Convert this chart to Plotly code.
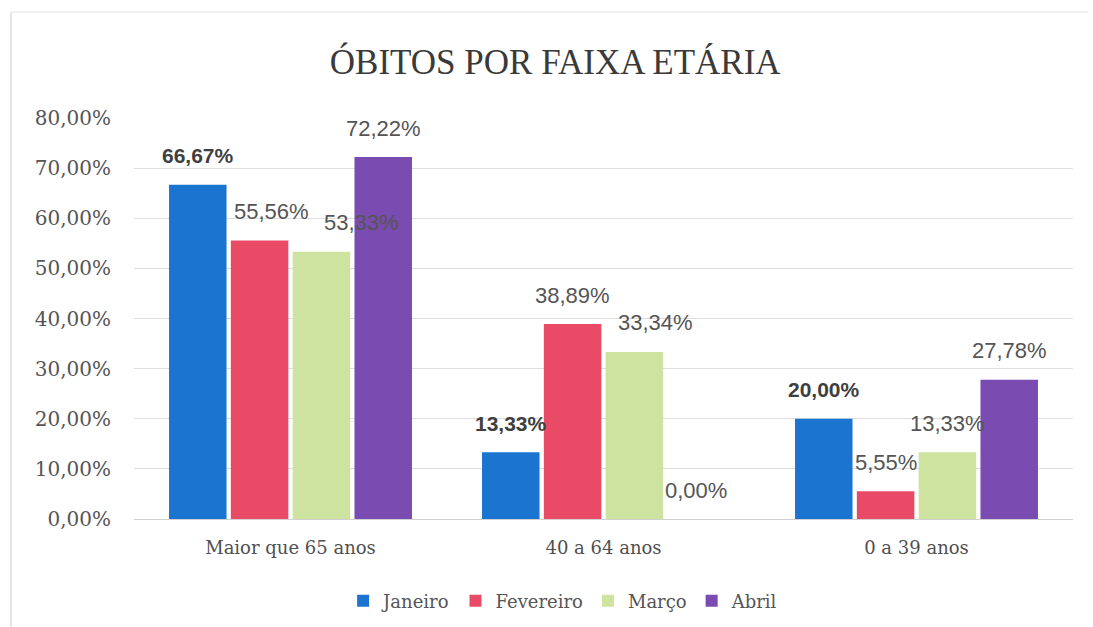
import plotly.graph_objects as go

# Age groups and monthly share of deaths (%)
categories = ["Maior que 65 anos", "40 a 64 anos", "0 a 39 anos"]
months = ["Janeiro", "Fevereiro", "Março", "Abril"]
janeiro = [66.67, 13.33, 20.00]
fevereiro = [55.56, 38.89, 5.55]
marco = [53.33, 33.34, 13.33]
abril = [72.22, 0.00, 27.78]
y_ticks = [0, 10, 20, 30, 40, 50, 60, 70, 80]

series = [janeiro, fevereiro, marco, abril]
colors = ["#1a74d0", "#e94b66", "#cfe3a1", "#7a4bb1"]
label_bold = [True, False, False, False]

# Layout geometry (pixels)
W, H = 1093, 627
ML, MR, MT, MB = 134, 20, 118, 108
BARGAP = 0.21
plot_w = W - ML - MR
plot_h = H - MT - MB
slot_px = plot_w / len(categories) * (1 - BARGAP) / len(months)

# Small horizontal nudges for a few labels that sit beside their bar
label_nudge = {(2, 0): 40, (1, 0): 12, (2, 1): 21}


def pct(v):
    return f"{v:.2f}".replace(".", ",") + "%"


fig = go.Figure()
for name, vals, col in zip(months, series, colors):
    fig.add_trace(go.Bar(
        name=name, x=categories, y=vals,
        marker=dict(color=col, line=dict(width=0)),
        hoverinfo="skip",
    ))

annotations = []
for si, vals in enumerate(series):
    offset = (si - (len(months) - 1) / 2) * slot_px
    for ci, v in enumerate(vals):
        annotations.append(dict(
            x=categories[ci], y=v, xref="x", yref="y",
            text=f"<b>{pct(v)}</b>" if label_bold[si] else pct(v),
            showarrow=False, xanchor="center", yanchor="middle",
            xshift=offset + label_nudge.get((si, ci), 0), yshift=29,
            font=dict(family="Liberation Sans, Arial, sans-serif",
                      size=22 if not label_bold[si] else 21,
                      color="#3f3f3f" if label_bold[si] else "#555555"),
        ))

frame_x = (11 - ML) / plot_w
frame_top = 1 + (MT - 12) / plot_h

fig.update_layout(
    width=W, height=H,
    margin=dict(l=ML, r=MR, t=MT, b=MB),
    paper_bgcolor="white", plot_bgcolor="white",
    barmode="group", bargap=BARGAP, bargroupgap=0.07,
    title=dict(
        text="ÓBITOS POR FAIXA ETÁRIA",
        x=0.508, xanchor="center", y=1 - 62 / H, yanchor="middle",
        yref="container",
        font=dict(family="Liberation Serif, serif", size=35, color="#3a3a3a"),
    ),
    legend=dict(
        orientation="h", x=0.457, xanchor="center",
        y=1 - 601 / H, yanchor="middle", yref="container",
        font=dict(family="DejaVu Serif, serif", size=18, color="#555555"),
        itemwidth=30, tracegroupgap=0,
    ),
    annotations=annotations,
    shapes=[
        dict(type="line", xref="paper", yref="paper",
             x0=frame_x, x1=frame_x,
             y0=-MB / plot_h, y1=frame_top,
             line=dict(color="#e6e6e6", width=2)),
        dict(type="line", xref="paper", yref="paper",
             x0=frame_x, x1=1 + (MR - 5) / plot_w,
             y0=frame_top, y1=frame_top,
             line=dict(color="#f0f0f0", width=2)),
    ],
)

fig.update_xaxes(
    showgrid=False, showline=False, ticks="",
    tickfont=dict(family="DejaVu Serif, serif", size=18, color="#505050"),
    ticklabelstandoff=16,
)
fig.update_yaxes(
    range=[0, 80], tickvals=y_ticks,
    ticktext=[pct(t) for t in y_ticks],
    showgrid=True, gridcolor="#dedede", gridwidth=1,
    zeroline=True, zerolinecolor="#d0d0d0", zerolinewidth=1,
    showline=False, ticks="",
    tickfont=dict(family="DejaVu Serif, serif", size=20, color="#555555"),
    ticklabelstandoff=22,
)

fig.write_html("out.html")
